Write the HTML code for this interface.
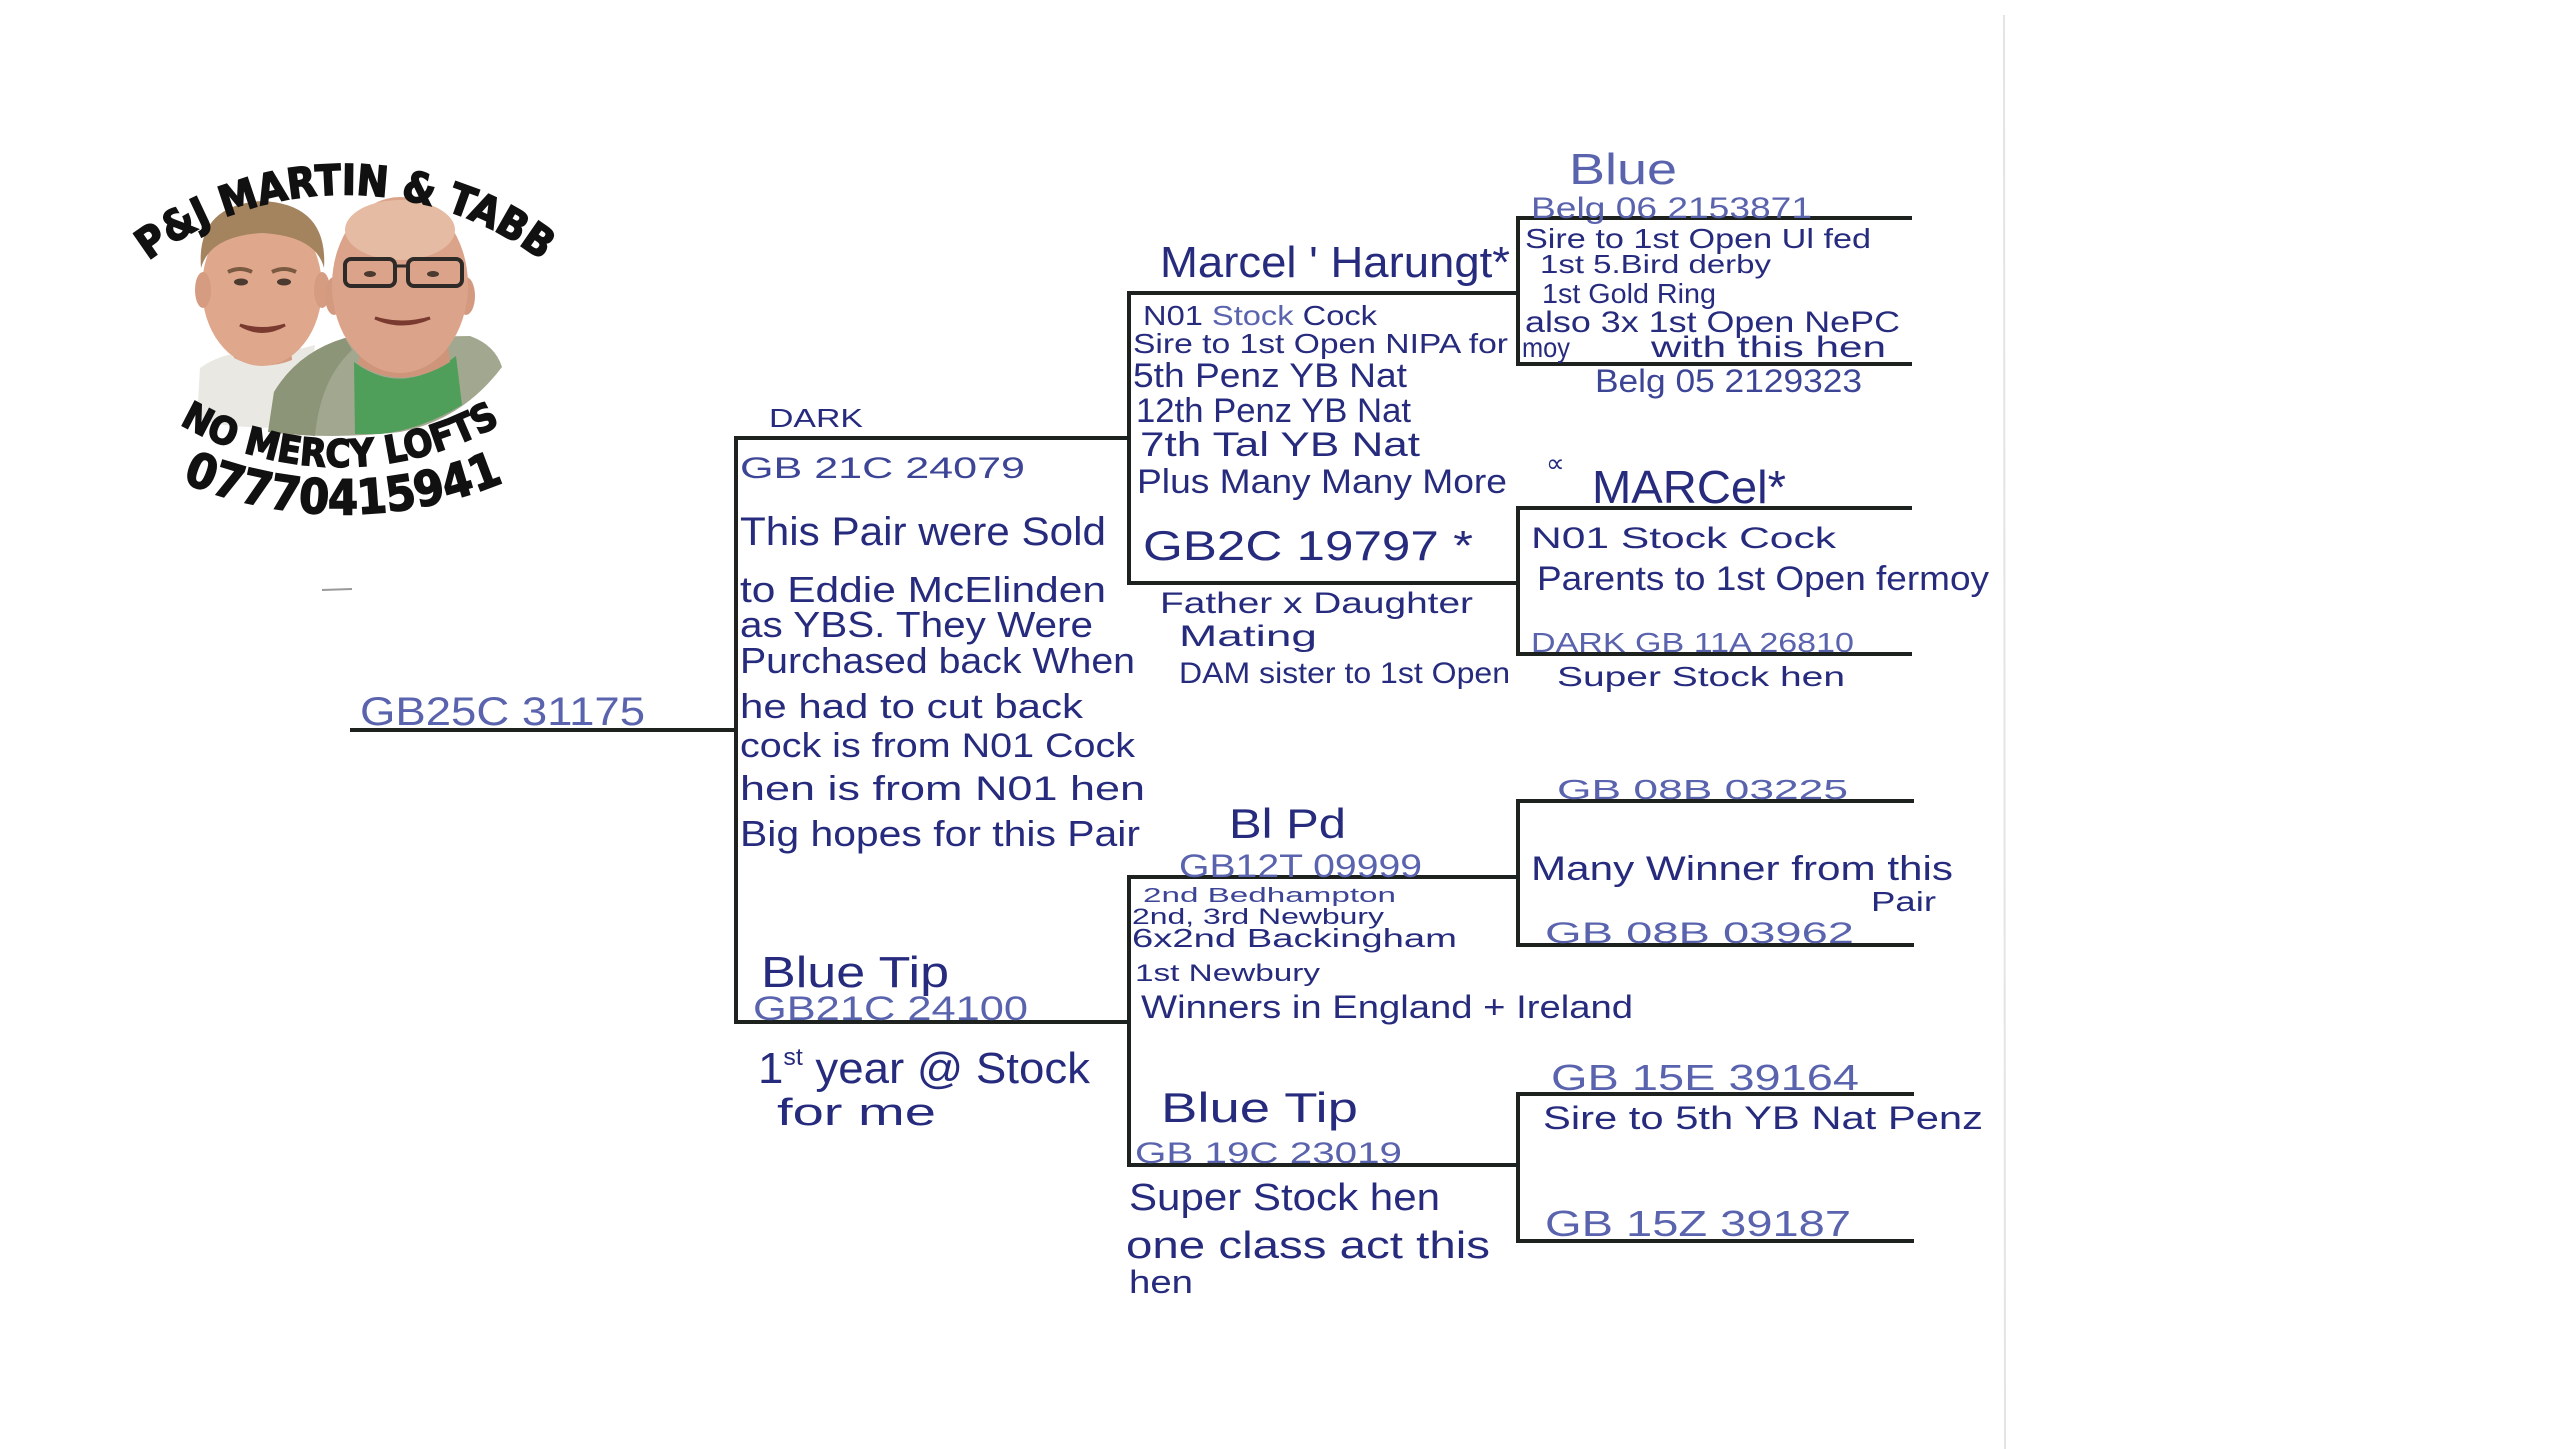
<!DOCTYPE html>
<html>
<head>
<meta charset="utf-8">
<style>
  html,body{margin:0;padding:0;background:#ffffff;}
  body{width:2560px;height:1449px;overflow:hidden;}
  svg{display:block;}
  .h{font-family:"Liberation Sans","DejaVu Sans",sans-serif;fill:#262b7e;}
  .l{fill:#5a63ad;}
  .m{fill:#3d4596;}
  .logo{font-family:"DejaVu Sans Condensed","DejaVu Sans","Liberation Sans",sans-serif;font-weight:bold;fill:#111;stroke:#111;stroke-width:1.5;}
</style>
</head>
<body>
<svg width="2560" height="1449" viewBox="0 0 2560 1449" xmlns="http://www.w3.org/2000/svg">
  <rect width="2560" height="1449" fill="#ffffff"/>

  <!-- faint scan edge -->
  <line x1="2004" y1="15" x2="2005" y2="1449" stroke="#e4e4e4" stroke-width="2"/>
  <line x1="322" y1="590" x2="352" y2="589" stroke="#9a9a9a" stroke-width="2"/>

  <!-- ============ LOGO ============ -->
  <defs>
    <path id="arcTop" d="M 100 306 A 325 325 0 0 1 590 306"/>
    <path id="arcMid" d="M 120 380 A 322 322 0 0 0 560 380"/>
    <path id="arcBot" d="M 118 448 A 415 415 0 0 0 568 448"/>
  </defs>

  <!-- left man shirt -->
  <path d="M197,420 L200,368 Q225,350 262,352 Q292,352 315,345 L305,425 Q250,432 197,420 Z" fill="#e9e8e2"/>
  <!-- left neck -->
  <path d="M236,335 L290,335 L292,360 Q262,372 234,358 Z" fill="#d49a80"/>
  <!-- left head -->
  <ellipse cx="262" cy="288" rx="60" ry="78" fill="#dfa78c"/>
  <ellipse cx="203" cy="290" rx="8" ry="18" fill="#d69c82"/>
  <ellipse cx="322" cy="290" rx="8" ry="18" fill="#d69c82"/>
  <path d="M201,268 Q196,205 262,201 Q328,204 324,268 Q316,236 262,233 Q210,236 201,268 Z" fill="#a4835f"/>
  <path d="M228,272 Q240,266 252,272" stroke="#7a5a40" stroke-width="4" fill="none"/>
  <path d="M272,272 Q284,266 296,272" stroke="#7a5a40" stroke-width="4" fill="none"/>
  <ellipse cx="241" cy="282" rx="7" ry="3.5" fill="#4a3a30"/>
  <ellipse cx="284" cy="282" rx="7" ry="3.5" fill="#4a3a30"/>
  <path d="M240,325 Q262,338 285,325 Q262,332 240,325 Z" fill="#ffffff" stroke="#7a3a30" stroke-width="3"/>

  <!-- hoodie -->
  <path d="M268,432 L274,392 Q298,352 345,338 L470,336 Q495,345 502,367 Q462,420 400,432 Q330,440 268,432 Z" fill="#a2a78f"/>
  <path d="M268,432 L274,392 Q298,352 345,338 L352,350 Q320,380 315,436 Z" fill="#8c9577"/>
  <!-- green tshirt -->
  <path d="M354,362 Q402,398 456,356 L462,405 Q420,430 380,434 L355,434 Z" fill="#4f9f5a"/>
  <!-- right neck -->
  <path d="M362,345 L448,345 L450,362 Q402,392 358,364 Z" fill="#cf957b"/>
  <!-- right head -->
  <ellipse cx="334" cy="296" rx="9" ry="19" fill="#d49a80"/>
  <ellipse cx="466" cy="296" rx="9" ry="19" fill="#d49a80"/>
  <ellipse cx="400" cy="285" rx="68" ry="88" fill="#dba48a"/>
  <ellipse cx="400" cy="230" rx="55" ry="30" fill="#e6bba3"/>
  <rect x="345" y="259" width="50" height="27" rx="6" fill="none" stroke="#2e2a28" stroke-width="4"/>
  <rect x="408" y="259" width="54" height="27" rx="6" fill="none" stroke="#2e2a28" stroke-width="4"/>
  <line x1="395" y1="266" x2="408" y2="266" stroke="#2e2a28" stroke-width="3"/>
  <ellipse cx="370" cy="274" rx="6" ry="3" fill="#4a3a30"/>
  <ellipse cx="433" cy="274" rx="6" ry="3" fill="#4a3a30"/>
  <path d="M375,318 Q402,330 430,318 Q402,326 375,318 Z" fill="#ffffff" stroke="#7a3a30" stroke-width="3"/>

  <!-- logo text -->
  <text class="logo" font-size="42"><textPath href="#arcTop" startOffset="50%" text-anchor="middle">P&amp;J MARTIN &amp; TABB</textPath></text>
  <text class="logo" font-size="38"><textPath href="#arcMid" startOffset="50%" text-anchor="middle">NO MERCY LOFTS</textPath></text>
  <text class="logo" font-size="48"><textPath href="#arcBot" startOffset="50%" text-anchor="middle">07770415941</textPath></text>

  <!-- ============ TREE LINES ============ -->
  <g stroke="#1d221e" stroke-width="4" fill="none" stroke-linecap="square">
    <line x1="352" y1="730" x2="736" y2="730"/>
    <line x1="736" y1="438" x2="736" y2="1022"/>
    <line x1="736" y1="438" x2="1129" y2="438"/>
    <line x1="736" y1="1022" x2="1129" y2="1022"/>

    <line x1="1129" y1="293" x2="1129" y2="583"/>
    <line x1="1129" y1="293" x2="1518" y2="293"/>
    <line x1="1129" y1="583" x2="1518" y2="583"/>

    <line x1="1518" y1="218" x2="1518" y2="364"/>
    <line x1="1518" y1="218" x2="1910" y2="218"/>
    <line x1="1518" y1="364" x2="1910" y2="364"/>

    <line x1="1518" y1="508" x2="1518" y2="654"/>
    <line x1="1518" y1="508" x2="1910" y2="508"/>
    <line x1="1518" y1="654" x2="1910" y2="654"/>

    <line x1="1129" y1="877" x2="1129" y2="1165"/>
    <line x1="1129" y1="877" x2="1518" y2="877"/>
    <line x1="1129" y1="1165" x2="1518" y2="1165"/>

    <line x1="1518" y1="801" x2="1518" y2="945"/>
    <line x1="1518" y1="801" x2="1912" y2="801"/>
    <line x1="1518" y1="945" x2="1912" y2="945"/>

    <line x1="1518" y1="1094" x2="1518" y2="1241"/>
    <line x1="1518" y1="1094" x2="1912" y2="1094"/>
    <line x1="1518" y1="1241" x2="1912" y2="1241"/>
  </g>

  <!-- ============ TEXT ============ -->
  <g class="h">
    <!-- root -->
    <text class="h l" x="360" y="725" font-size="40" textLength="285" lengthAdjust="spacingAndGlyphs">GB25C 31175</text>

    <!-- Dark box -->
    <text class="h" x="769" y="427" font-size="26" textLength="94" lengthAdjust="spacingAndGlyphs">DARK</text>
    <text class="h m" x="740" y="478" font-size="30" textLength="285" lengthAdjust="spacingAndGlyphs">GB 21C 24079</text>
    <text class="h" x="740" y="545" font-size="40" textLength="366" lengthAdjust="spacingAndGlyphs">This Pair were Sold</text>
    <text class="h" x="740" y="602" font-size="36" textLength="366" lengthAdjust="spacingAndGlyphs">to Eddie McElinden</text>
    <text class="h" x="740" y="637" font-size="36" textLength="353" lengthAdjust="spacingAndGlyphs">as YBS. They Were</text>
    <text class="h" x="740" y="673" font-size="36" textLength="395" lengthAdjust="spacingAndGlyphs">Purchased back When</text>
    <text class="h" x="740" y="718" font-size="34" textLength="343" lengthAdjust="spacingAndGlyphs">he had to cut back</text>
    <text class="h" x="740" y="757" font-size="34" textLength="395" lengthAdjust="spacingAndGlyphs">cock is from N01 Cock</text>
    <text class="h" x="740" y="800" font-size="34" textLength="405" lengthAdjust="spacingAndGlyphs">hen is from N01 hen</text>
    <text class="h" x="740" y="846" font-size="36" textLength="400" lengthAdjust="spacingAndGlyphs">Big hopes for this Pair</text>

    <!-- Blue Tip left -->
    <text class="h" x="761" y="987" font-size="44" textLength="188" lengthAdjust="spacingAndGlyphs">Blue Tip</text>
    <text class="h l" x="753" y="1020" font-size="34" textLength="275" lengthAdjust="spacingAndGlyphs">GB21C 24100</text>
    <text class="h" x="758" y="1083" font-size="44" textLength="332" lengthAdjust="spacingAndGlyphs">1<tspan font-size="24" dy="-18">st</tspan><tspan dy="18"> year @ Stock</tspan></text>
    <text class="h" x="777" y="1125" font-size="38" textLength="159" lengthAdjust="spacingAndGlyphs">for me</text>

    <!-- Marcel upper middle -->
    <text class="h" x="1160" y="277" font-size="44" textLength="350" lengthAdjust="spacingAndGlyphs">Marcel ' Harungt*</text>
    <text class="h" x="1143" y="325" font-size="28" textLength="234" lengthAdjust="spacingAndGlyphs">N01 <tspan class="l">Stock</tspan> Cock</text>
    <text class="h" x="1133" y="353" font-size="28" textLength="375" lengthAdjust="spacingAndGlyphs">Sire to 1st Open NIPA for</text>
    <text class="h" x="1133" y="387" font-size="34" textLength="274" lengthAdjust="spacingAndGlyphs">5th Penz YB Nat</text>
    <text class="h" x="1136" y="422" font-size="34" textLength="275" lengthAdjust="spacingAndGlyphs">12th Penz YB Nat</text>
    <text class="h" x="1140" y="456" font-size="34" textLength="280" lengthAdjust="spacingAndGlyphs">7th Tal   YB Nat</text>
    <text class="h" x="1137" y="493" font-size="34" textLength="370" lengthAdjust="spacingAndGlyphs">Plus Many Many More</text>
    <text class="h" x="1143" y="560" font-size="42" textLength="330" lengthAdjust="spacingAndGlyphs">GB2C 19797  *</text>
    <text class="h" x="1160" y="613" font-size="30" textLength="313" lengthAdjust="spacingAndGlyphs">Father x Daughter</text>
    <text class="h" x="1179" y="646" font-size="30" textLength="138" lengthAdjust="spacingAndGlyphs">Mating</text>
    <text class="h" x="1179" y="683" font-size="30" textLength="331" lengthAdjust="spacingAndGlyphs">DAM sister to 1st Open</text>

    <!-- top right -->
    <text class="h l" x="1569" y="184" font-size="44" textLength="108" lengthAdjust="spacingAndGlyphs">Blue</text>
    <text class="h l" x="1531" y="218" font-size="30" textLength="281" lengthAdjust="spacingAndGlyphs">Belg 06 2153871</text>
    <text class="h" x="1525" y="248" font-size="28" textLength="346" lengthAdjust="spacingAndGlyphs">Sire to 1st Open Ul fed</text>
    <text class="h" x="1540" y="273" font-size="26" textLength="231" lengthAdjust="spacingAndGlyphs">1st 5.Bird derby</text>
    <text class="h" x="1542" y="303" font-size="28" textLength="174" lengthAdjust="spacingAndGlyphs">1st Gold Ring</text>
    <text class="h" x="1525" y="332" font-size="30" textLength="375" lengthAdjust="spacingAndGlyphs">also 3x 1st Open NePC</text>
    <text class="h" x="1522" y="357" font-size="28" textLength="48" lengthAdjust="spacingAndGlyphs">moy</text>
    <text class="h" x="1651" y="357" font-size="30" textLength="235" lengthAdjust="spacingAndGlyphs">with this hen</text>
    <text class="h m" x="1595" y="392" font-size="32" textLength="267" lengthAdjust="spacingAndGlyphs">Belg 05 2129323</text>

    <!-- Marcel right -->
    <text class="h" x="1546" y="472" font-size="26">∝</text>
    <text class="h" x="1592" y="503" font-size="46" textLength="194" lengthAdjust="spacingAndGlyphs">MARCel*</text>
    <text class="h" x="1531" y="548" font-size="30" textLength="305" lengthAdjust="spacingAndGlyphs">N01 Stock Cock</text>
    <text class="h" x="1537" y="590" font-size="34" textLength="452" lengthAdjust="spacingAndGlyphs">Parents to 1st Open fermoy</text>
    <text class="h l" x="1531" y="652" font-size="28" textLength="323" lengthAdjust="spacingAndGlyphs">DARK GB 11A 26810</text>
    <text class="h" x="1557" y="686" font-size="28" textLength="288" lengthAdjust="spacingAndGlyphs">Super Stock hen</text>

    <!-- Bl Pd -->
    <text class="h" x="1229" y="838" font-size="42" textLength="117" lengthAdjust="spacingAndGlyphs">Bl Pd</text>
    <text class="h l" x="1179" y="877" font-size="32" textLength="243" lengthAdjust="spacingAndGlyphs">GB12T 09999</text>
    <text class="h m" x="1143" y="902" font-size="20" textLength="253" lengthAdjust="spacingAndGlyphs">2nd Bedhampton</text>
    <text class="h" x="1132" y="924" font-size="22" textLength="252" lengthAdjust="spacingAndGlyphs">2nd, 3rd Newbury</text>
    <text class="h" x="1132" y="947" font-size="26" textLength="325" lengthAdjust="spacingAndGlyphs">6x2nd Backingham</text>
    <text class="h" x="1135" y="981" font-size="24" textLength="185" lengthAdjust="spacingAndGlyphs">1st Newbury</text>
    <text class="h" x="1141" y="1018" font-size="32" textLength="492" lengthAdjust="spacingAndGlyphs">Winners in England + Ireland</text>

    <!-- GB 08B box -->
    <text class="h l" x="1557" y="799" font-size="28" textLength="291" lengthAdjust="spacingAndGlyphs">GB 08B 03225</text>
    <text class="h" x="1531" y="880" font-size="34" textLength="422" lengthAdjust="spacingAndGlyphs">Many Winner from this</text>
    <text class="h" x="1871" y="911" font-size="28" textLength="65" lengthAdjust="spacingAndGlyphs">Pair</text>
    <text class="h l" x="1545" y="943" font-size="30" textLength="309" lengthAdjust="spacingAndGlyphs">GB 08B 03962</text>

    <!-- Blue Tip middle -->
    <text class="h" x="1161" y="1122" font-size="42" textLength="197" lengthAdjust="spacingAndGlyphs">Blue Tip</text>
    <text class="h l" x="1135" y="1163" font-size="30" textLength="267" lengthAdjust="spacingAndGlyphs">GB 19C 23019</text>
    <text class="h" x="1129" y="1210" font-size="38" textLength="311" lengthAdjust="spacingAndGlyphs">Super Stock hen</text>
    <text class="h" x="1126" y="1258" font-size="38" textLength="364" lengthAdjust="spacingAndGlyphs">one class act this</text>
    <text class="h" x="1129" y="1293" font-size="32" textLength="64" lengthAdjust="spacingAndGlyphs">hen</text>

    <!-- GB 15E box -->
    <text class="h l" x="1551" y="1090" font-size="36" textLength="308" lengthAdjust="spacingAndGlyphs">GB 15E 39164</text>
    <text class="h" x="1543" y="1129" font-size="32" textLength="440" lengthAdjust="spacingAndGlyphs">Sire to 5th YB Nat Penz</text>
    <text class="h l" x="1545" y="1236" font-size="36" textLength="306" lengthAdjust="spacingAndGlyphs">GB 15Z 39187</text>
  </g>
</svg>
</body>
</html>
